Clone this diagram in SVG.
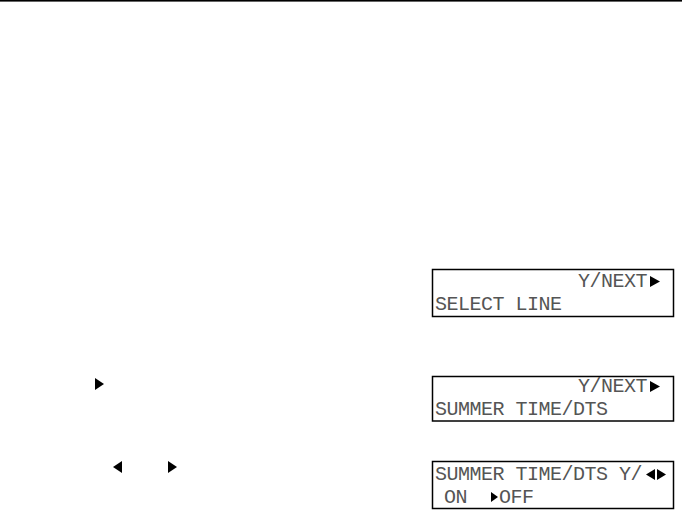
<svg xmlns="http://www.w3.org/2000/svg" width="682" height="510" viewBox="0 0 682 510">
<style>
.box{fill:none;stroke:#000;stroke-width:1.5}
.lcd{font-family:"Liberation Mono","DejaVu Sans Mono",monospace;font-size:20px;fill:#555;letter-spacing:-0.5px}
.tri{fill:#000}
</style>
<rect x="0" y="0" width="682" height="1.6" fill="#000"/>
<g id="arrow-right-key">
<polygon class="tri" points="95,378 104,384 95,390"/>
</g>
<g id="arrow-left-right-keys">
<polygon class="tri" points="122,461 113,467 122,473"/>
<polygon class="tri" points="168,461 177,467 168,473"/>
</g>
<g id="display1">
<rect class="box" x="432.5" y="269.5" width="241" height="47"/>
<text class="lcd" x="578" y="287">Y/NEXT</text>
<polygon class="tri" points="650,276 660,281.5 650,287"/>
<text class="lcd" x="435" y="310">SELECT LINE</text>
</g>
<g id="display2">
<rect class="box" x="432.5" y="376.5" width="241" height="44.5"/>
<text class="lcd" x="578" y="392">Y/NEXT</text>
<polygon class="tri" points="650,381 660,386.5 650,392"/>
<text class="lcd" x="435" y="415">SUMMER TIME/DTS</text>
</g>
<g id="display3">
<rect class="box" x="432.5" y="461.5" width="241" height="47"/>
<text class="lcd" x="435" y="480">SUMMER TIME/DTS Y/</text>
<polygon class="tri" points="655,469 646,474.5 655,480"/>
<polygon class="tri" points="657,469 666,474.5 657,480"/>
<text class="lcd" x="444" y="503">ON</text>
<polygon class="tri" points="491,492 498,497 491,502"/>
<text class="lcd" x="499" y="503">OFF</text>
</g>
</svg>
